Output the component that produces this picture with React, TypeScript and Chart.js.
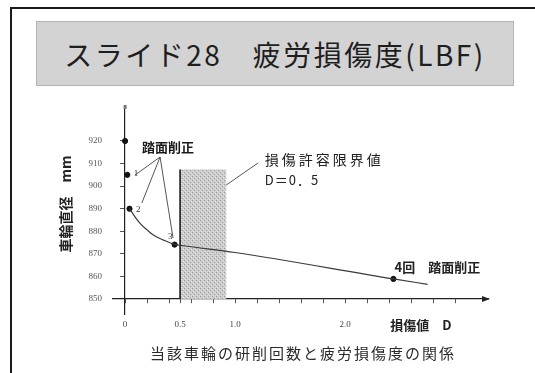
import React, { useEffect, useRef } from "react";
import { Chart, registerables } from "chart.js";

Chart.register(...registerables);

// ---- data ----
const TITLE = "スライド28　疲労損傷度(LBF)";
const CAPTION = "当該車輪の研削回数と疲労損傷度の関係";
const Y_TITLE = "車輪直径　mm";
const X_TITLE = "損傷値　D";

// wheel diameter after each tread re-profiling (new, 1st, 2nd, 3rd, 4th)
const GRIND_D = [0, 0.02, 0.04, 0.45, 2.44];
const GRIND_DIAM = [920, 905, 890, 874.1, 858.9];

// damage curve
const CURVE_D = [0.04, 0.09, 0.136, 0.2, 0.257, 0.35, 0.45, 0.5, 1.0, 2.44, 2.75];
const CURVE_DIAM = [890, 886.4, 883.5, 880.6, 878.3, 876.1, 874.2, 873.8, 870.6, 858.9, 856.5];

// allowable damage limit band
const LIMIT_D = [0.5, 0.92];
const LIMIT_TOP = 907.4;
const LIMIT_LABEL = "損傷許容限界値";
const LIMIT_VALUE = "D＝0．5";

const X_TICKS = [0, 0.2, 0.4, 0.5, 0.6, 0.8, 1.0, 1.2, 1.4, 1.6, 1.8, 2.0, 2.2, 2.4, 2.6, 2.8, 3.0];
const X_LABEL_VALUES = [0, 0.5, 1.0, 2.0];
const X_LABEL_TEXT = ["0", "0.5", "1.0", "2.0"];
const Y_TICKS = [850, 860, 870, 880, 890, 900, 910, 920];
const Y_TICK_TEXT = ["850", "860", "870", "880", "890", "900", "910", "920"];

const GRIND_LABEL = "踏面削正";
const GRIND_NUMS = ["1", "2", "3"];
const FOURTH_LABEL = "4回　踏面削正";

export default function App() {
  const ref = useRef<HTMLCanvasElement>(null);

  useEffect(() => {
    const canvas = ref.current!;
    const pc = document.createElement("canvas");
    pc.width = 4;
    pc.height = 4;
    const p = pc.getContext("2d")!;
    p.fillStyle = "#cdcdcd";
    p.fillRect(0, 0, 4, 4);
    p.fillStyle = "#9c9c9c";
    p.fillRect(0, 0, 1, 1);
    p.fillRect(2, 2, 1, 1);
    p.fillStyle = "#e4e4e4";
    p.fillRect(1, 3, 1, 1);
    p.fillRect(3, 1, 1, 1);
    const hatch = canvas.getContext("2d")!.createPattern(pc, "repeat");

    const deco = {
      id: "deco",
      beforeDatasetsDraw(chart: any) {
        const { ctx } = chart;
        const x = chart.scales.x;
        const y = chart.scales.y;
        const l = x.getPixelForValue(LIMIT_D[0]);
        const r = x.getPixelForValue(LIMIT_D[1]);
        const t = y.getPixelForValue(LIMIT_TOP);
        const b = y.getPixelForValue(850);
        ctx.save();
        ctx.fillStyle = hatch;
        ctx.fillRect(l, t, r - l, b - t);
        ctx.strokeStyle = "#1a1a1a";
        ctx.lineWidth = 1.6;
        ctx.beginPath();
        ctx.moveTo(l, t);
        ctx.lineTo(l, b);
        ctx.stroke();
        ctx.restore();
      },
      afterDraw(chart: any) {
        const { ctx, chartArea } = chart;
        const x = chart.scales.x;
        const y = chart.scales.y;
        const P = (dx: number, dy: number) => [x.getPixelForValue(dx), y.getPixelForValue(dy)];
        ctx.save();
        // axis arrow (x) and top end of y
        const ax = y.getPixelForValue(850);
        ctx.fillStyle = "#222";
        ctx.beginPath();
        ctx.moveTo(chartArea.right + 2, ax);
        ctx.lineTo(chartArea.right - 6, ax - 3);
        ctx.lineTo(chartArea.right - 6, ax + 3);
        ctx.closePath();
        ctx.fill();
        const y0 = x.getPixelForValue(0);
        ctx.fillStyle = "#777";
        ctx.fillRect(y0 - 1.5, chartArea.top - 1, 3, 4);

        // y tick labels (left of the crossing axis)
        ctx.textBaseline = "middle";
        ctx.textAlign = "right";
        ctx.fillStyle = "#555";
        ctx.font = `9px "Liberation Serif", serif`;
        Y_TICKS.forEach((v, i) => ctx.fillText(Y_TICK_TEXT[i], y0 - 23, y.getPixelForValue(v)));

        // callout lines for grinding points
        ctx.strokeStyle = "#555";
        ctx.lineWidth = 1;
        const apex = P(0.318, 912.9);
        const ends = [P(0.09, 904.9), P(0.152, 892.5), P(0.436, 877.0)];
        ends.forEach((e) => {
          ctx.beginPath();
          ctx.moveTo(apex[0], apex[1]);
          ctx.lineTo(e[0], e[1]);
          ctx.stroke();
        });
        // callout for limit band
        const c1 = P(LIMIT_D[1], 900.5);
        const c2 = P(1.21, 910.3);
        ctx.beginPath();
        ctx.moveTo(c1[0], c1[1]);
        ctx.lineTo(c2[0], c2[1]);
        ctx.stroke();

        const cjk = '"Noto Sans CJK JP", sans-serif';
        ctx.fillStyle = "#1a1a1a";
        ctx.font = `bold 13px ${cjk}`;
        ctx.textAlign = "center";
        let q = P(0.39, 917.3);
        ctx.fillText(GRIND_LABEL, q[0], q[1]);

        ctx.font = `9px "Liberation Serif", serif`;
        ctx.fillStyle = "#333";
        const numPos = [P(0.1, 905.6), P(0.12, 889.4), P(0.41, 877.6)];
        GRIND_NUMS.forEach((n, i) => ctx.fillText(n, numPos[i][0], numPos[i][1]));

        ctx.textAlign = "left";
        ctx.fillStyle = "#222";
        ctx.font = `14px ${cjk}`;
        (ctx as any).letterSpacing = "3px";
        q = P(1.27, 911.6);
        ctx.fillText(LIMIT_LABEL, q[0], q[1]);
        (ctx as any).letterSpacing = "1px";
        ctx.font = `13px ${cjk}`;
        q = P(1.27, 902.7);
        ctx.fillText(LIMIT_VALUE, q[0], q[1]);
        (ctx as any).letterSpacing = "0px";

        ctx.font = `bold 13px ${cjk}`;
        q = P(2.45, 864.2);
        ctx.fillText(FOURTH_LABEL, q[0], q[1]);

        ctx.font = `bold 13px ${cjk}`;
        ctx.fillText(X_TITLE, x.getPixelForValue(2.41), ax + 26);

        // y title
        ctx.save();
        ctx.translate(66, 204);
        ctx.rotate(-Math.PI / 2);
        ctx.textAlign = "center";
        ctx.font = `bold 14px ${cjk}`;
        ctx.fillText(Y_TITLE, 0, 0);
        ctx.restore();

        // caption
        ctx.textAlign = "center";
        ctx.fillStyle = "#2a2a2a";
        ctx.font = `15px ${cjk}`;
        (ctx as any).letterSpacing = "2px";
        ctx.fillText(CAPTION, 303, 353);
        ctx.restore();
      },
    };

    const chart = new Chart(canvas, {
      type: "scatter",
      data: {
        datasets: [
          {
            type: "line",
            data: CURVE_D.map((d, i) => ({ x: d, y: CURVE_DIAM[i] })),
            borderColor: "#3a3a3a",
            borderWidth: 1.2,
            pointRadius: 0,
            cubicInterpolationMode: "monotone",
            fill: false,
          } as any,
          {
            type: "scatter",
            data: GRIND_D.map((d, i) => ({ x: d, y: GRIND_DIAM[i] })),
            pointRadius: 2.6,
            backgroundColor: "#111",
            borderColor: "#111",
          },
        ],
      },
      options: {
        responsive: false,
        animation: false,
        layout: { padding: { left: 113, right: 47, top: 106, bottom: 59 } },
        plugins: { legend: { display: false }, tooltip: { enabled: false } },
        scales: {
          x: {
            type: "linear",
            min: -0.11,
            max: 3.3,
            position: { y: 850 } as any,
            afterBuildTicks: (s: any) => {
              s.ticks = X_TICKS.map((v) => ({ value: v }));
            },
            ticks: {
              autoSkip: false,
              maxRotation: 0,
              padding: 16,
              color: "#444",
              font: { family: '"Liberation Serif", serif', size: 9 },
              callback: (v: any) => {
                const i = X_LABEL_VALUES.indexOf(Number(v));
                return i >= 0 ? X_LABEL_TEXT[i] : "";
              },
            },
            grid: { drawOnChartArea: false, drawTicks: true, tickLength: 4, color: "#555" },
            border: { color: "#222", width: 1.2 },
          },
          y: {
            type: "linear",
            min: 843.35,
            max: 935.5,
            position: { x: 0 } as any,
            afterBuildTicks: (s: any) => {
              s.ticks = Y_TICKS.map((v) => ({ value: v }));
            },
            ticks: {
              autoSkip: false,
              color: "rgba(0,0,0,0)",
              font: { family: '"Liberation Serif", serif', size: 8 },
              callback: (v: any) => {
                const i = Y_TICKS.indexOf(Number(v));
                return i >= 0 ? Y_TICK_TEXT[i] : "";
              },
            },
            grid: { drawOnChartArea: false, drawTicks: true, tickLength: 4, color: "#555" },
            border: { color: "#222", width: 1.2 },
          },
        },
      },
      plugins: [deco],
    });
    return () => chart.destroy();
  }, []);

  return (
    <div style={{ position: "absolute", left: 0, top: 0, width: 535, height: 373, background: "#fff" }}>
      <div
        style={{
          position: "absolute",
          left: 10,
          top: 7,
          width: 525,
          height: 366,
          borderTop: "2px solid #1a1a1a",
          borderLeft: "2px solid #1a1a1a",
          boxSizing: "border-box",
        }}
      />
      <div
        style={{
          position: "absolute",
          left: 36,
          top: 21,
          width: 478,
          height: 65,
          boxSizing: "border-box",
          background: "#d3d3d3",
          border: "1px solid #b4b4b4",
          display: "flex",
          alignItems: "center",
          justifyContent: "center",
          fontFamily: '"Noto Sans CJK JP", sans-serif',
          fontSize: 28,
          letterSpacing: "2.5px",
          color: "#1e1e1e",
          whiteSpace: "nowrap",
        }}
      >
        {TITLE}
      </div>
      <canvas ref={ref} width={535} height={373} style={{ position: "absolute", left: 0, top: 0 }} />
    </div>
  );
}
